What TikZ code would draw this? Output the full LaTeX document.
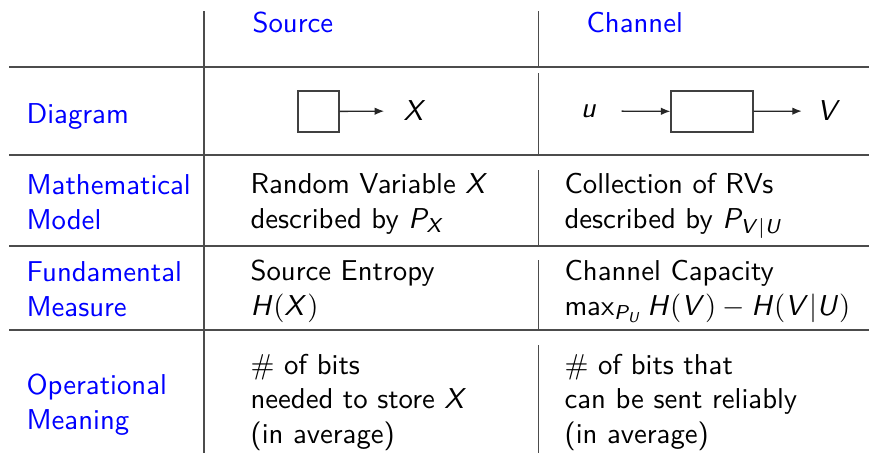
\documentclass[tikz,border=0pt]{standalone}
\usepackage{xcolor}
\usetikzlibrary{positioning,arrows.meta}
\DeclareMathAlphabet{\mathsfit}{OT1}{cmss}{m}{it}
\newcommand{\sv}[1]{\mathsfit{#1}}
\newcommand{\su}[1]{\mathsf{#1}}

\begin{document}
\begin{tikzpicture}[x=0.348pt, y=-0.348pt, font=\sffamily,
    rule/.style={draw=black!70, line width=0.65pt},
    head/.style={text=blue, anchor=base west, inner sep=0pt, align=left},
    cell/.style={anchor=base west, inner sep=0pt, align=left},
    block/.style={draw=black!75, line width=0.45pt, minimum height=14.3pt, inner sep=0pt},
    flow/.style={draw=black!85, line width=0.45pt, -{Latex[length=3.3pt,width=2.6pt]}}]
  \useasboundingbox (0,0) rectangle (869,453);

  % Rules of the table
  \foreach \y in {67,155,246,330} {
    \draw[rule] (9,\y) -- (869,\y);
  }
  \draw[rule] (204,11) -- (204,453);
  \foreach \a/\b in {11/67,73/155,170/247,260/330,345/453} {
    \draw[rule] (538.5,\a) -- (538.5,\b);
  }

  % Column and row headings (base = last line)
  \node[head] (source) at (252,32) {Source};
  \node[head] (channel) at (586,32) {Channel};
  \node[head] (diagram) at (26,123) {Diagram};
  \node[head] (model) at (26,229) {Mathematical\\Model};
  \node[head] (measure) at (26,316) {Fundamental\\Measure};
  \node[head] (meaning) at (26,429) {Operational\\Meaning};

  % Source diagram
  \node[block, minimum width=14.3pt] (srcbox) at (318.5,111.5) {};
  \node (X) at (415,111) {$\sv{X}$};
  \draw[flow, shorten >=3.2pt] (srcbox) -- (X);

  % Channel diagram
  \node[block, minimum width=28.5pt] (chbox) at (712,111.5) {};
  \node (u) at (589,111) {$\sv{u}$};
  \node (V) at (829,111) {$\sv{V}$};
  \draw[flow, shorten <=5pt] (u) -- (chbox);
  \draw[flow, shorten >=1.8pt] (chbox) -- (V);

  % Source column
  \node[cell] (srcmodel) at (250,228) {Random Variable $\sv{X}$\\described by $\sv{P}_{\sv{X}}$};
  \node[cell] (srcmeas) at (250,315) {Source Entropy\\$\sv{H}\su{(}\sv{X}\su{)}$};
  \node[cell] (srcmean) at (250,443) {\# of bits\\needed to store $\sv{X}$\\(in average)};

  % Channel column
  \node[cell] (chmodel) at (564,228) {Collection of RVs\\described by $\sv{P}_{\sv{V}|\sv{U}}$};
  \node[cell] (chmeas) at (564,315)
    {Channel Capacity\\$\mathop{\su{max}}\nolimits_{\sv{P}_{\sv{U}}}\sv{H}\su{(}\sv{V}\su{)}-\sv{H}\su{(}\sv{V}|\sv{U}\su{)}$};
  \node[cell] (chmean) at (564,443) {\# of bits that\\can be sent reliably\\(in average)};
\end{tikzpicture}
\end{document}
